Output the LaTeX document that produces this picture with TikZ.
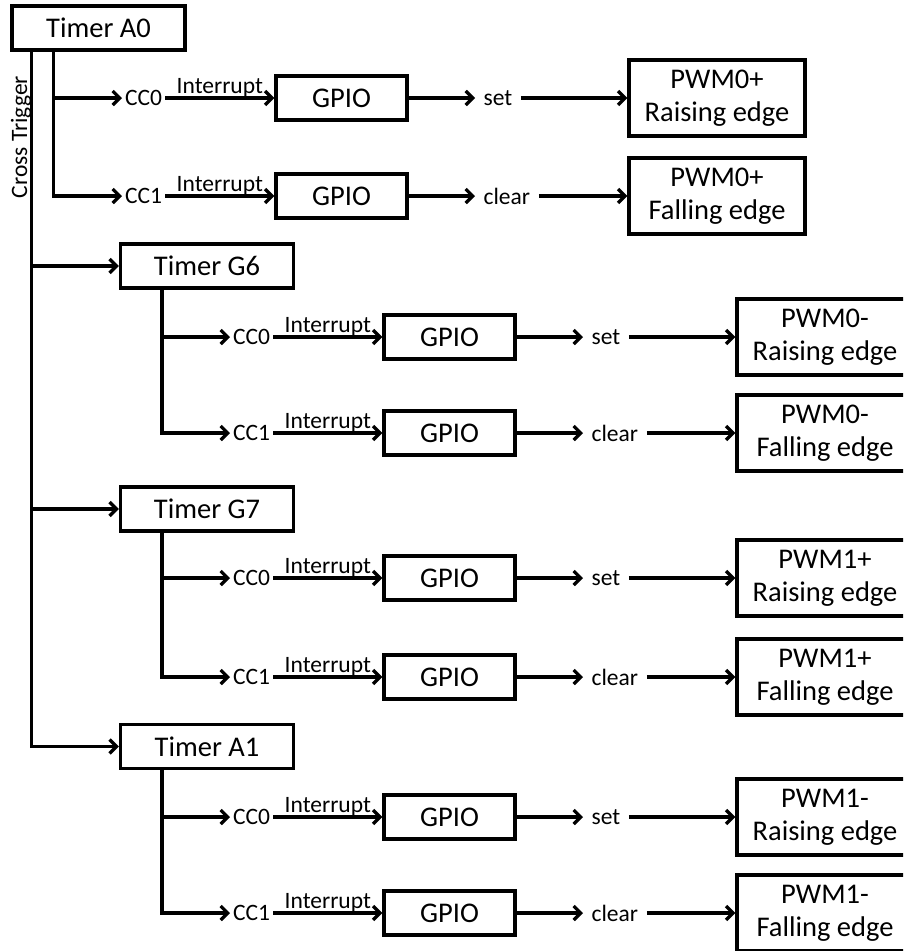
\documentclass[tikz,border=0pt]{standalone}
\usepackage{fontspec}
\setmainfont{Carlito}
\usetikzlibrary{arrows.meta,calc}
\newcommand\pwmrow[6]{%
  \node[lbl, anchor=west] (cc#1) at ({122+#2}, #3) {#4};
  \node[gpiobox] (gp#1) at ({341.5+#2}, #3) {GPIO};
  \node[sig, anchor=west] (sg#1) at ({475+#2}, #3) {#5};
  \node[pwmbox] (pw#1) at ({717+#2}, #3) {#6};
  \draw[arr] (cc#1) -- node[lbl, above=-0.5pt, inner sep=0pt] (it#1) {Interrupt} (gp#1);
  \draw[arr] (gp#1) -- (sg#1);
  \draw[arr] (sg#1) -- (pw#1);
}
\begin{document}
\begin{tikzpicture}[x=1pt,y=-1pt, line width=3.3pt,
  box/.style={draw, line width=3.3pt, minimum height=44pt, inner sep=0pt, font=\fontsize{28.5}{33}\selectfont},
  timerbox/.style={box, minimum width=173pt},
  gpiobox/.style={box, minimum width=131pt},
  pwmbox/.style={box, minimum width=176pt, minimum height=76pt, align=center},
  lbl/.style={inner sep=1.5pt, font=\fontsize{23.5}{26}\selectfont},
  sig/.style={inner xsep=7pt, inner ysep=1pt, font=\fontsize{23.5}{26}\selectfont},
  arr/.style={-{Straight Barb[length=7pt,width=14pt]}, line width=3.3pt}]
\useasboundingbox (0,0) rectangle (903,951);
\clip (0,0) rectangle (903,951);

% timers
\node[timerbox] (tA0) at (98.5, 28) {Timer A0};
\node[timerbox] (tG6) at (207, 266) {Timer G6};
\node[timerbox] (tG7) at (207, 509) {Timer G7};
\node[timerbox] (tA1) at (207, 746.5) {Timer A1};

% cross trigger bus
\coordinate (ct) at ([xshift=21pt]tA0.south west);
\node[lbl, rotate=90] (ctl) at (21, 137) {Cross Trigger};
\draw[arr] (ct) |- (tA1.west);
\draw[arr] (ct |- tG6.west) -- (tG6.west);
\draw[arr] (ct |- tG7.west) -- (tG7.west);

% rows
\pwmrow{A0a}{0}{98}{CC0}{set}{PWM0+\\Raising edge}
\pwmrow{A0b}{0}{196}{CC1}{clear}{PWM0+\\Falling edge}
\pwmrow{G6a}{108}{337}{CC0}{set}{PWM0-\\Raising edge}
\pwmrow{G6b}{108}{433}{CC1}{clear}{PWM0-\\Falling edge}
\pwmrow{G7a}{108}{578}{CC0}{set}{PWM1+\\Raising edge}
\pwmrow{G7b}{108}{677}{CC1}{clear}{PWM1+\\Falling edge}
\pwmrow{A1a}{108}{817}{CC0}{set}{PWM1-\\Raising edge}
\pwmrow{A1b}{108}{913}{CC1}{clear}{PWM1-\\Falling edge}

% timer branches
\coordinate (bA0) at ([xshift=43pt]tA0.south west);
\draw[arr] (bA0 |- ccA0a.west) -- (ccA0a.west);
\draw[arr] (bA0) |- (ccA0b.west);
\coordinate (bG6) at ([xshift=43pt]tG6.south west);
\draw[arr] (bG6 |- ccG6a.west) -- (ccG6a.west);
\draw[arr] (bG6) |- (ccG6b.west);
\coordinate (bG7) at ([xshift=43pt]tG7.south west);
\draw[arr] (bG7 |- ccG7a.west) -- (ccG7a.west);
\draw[arr] (bG7) |- (ccG7b.west);
\coordinate (bA1) at ([xshift=43pt]tA1.south west);
\draw[arr] (bA1 |- ccA1a.west) -- (ccA1a.west);
\draw[arr] (bA1) |- (ccA1b.west);
\end{tikzpicture}
\end{document}
